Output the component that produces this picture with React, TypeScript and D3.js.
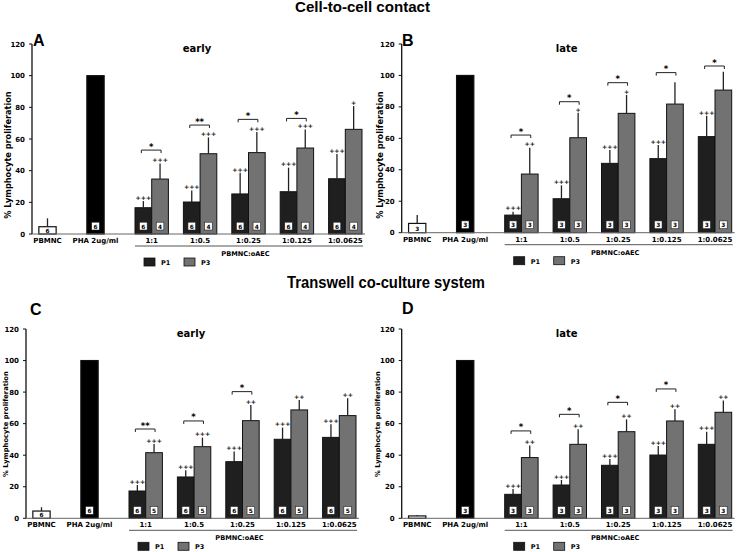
import React from "react";
import * as d3 from "d3";

// ---------- shared categories ----------
const controlCategories = ["PBMNC", "PHA 2ug/ml"];
const ratioCategories = ["1:1", "1:0.5", "1:0.25", "1:0.125", "1:0.0625"];
const seriesNames = ["P1", "P3"];
const yTicks = [0, 20, 40, 60, 80, 100, 120];
const groupLabel = "PBMNC:oAEC";
const yAxisLabel = "% Lymphocyte proliferation";
const topTitle = "Cell-to-cell contact";
const bottomTitle = "Transwell co-culture system";

// ---------- Panel A (contact, early) ----------
const aControlMean = [4.6, 100];
const aControlSd = [5.3, 0];
const aControlN = ["6", "6"];
const aP1Mean = [16.6, 20.2, 25.3, 26.7, 34.9];
const aP1Sd = [4.2, 7.2, 13.4, 15.2, 15.6];
const aP3Mean = [34.7, 50.7, 51.4, 54.3, 66.1];
const aP3Sd = [9.9, 10.3, 13.0, 11.7, 14.7];
const aP1Sig = ["+++", "+++", "+++", "+++", "+++"];
const aP3Sig = ["+++", "+++", "+++", "+++", "+"];
const aBracket = ["*", "**", "*", "*", ""];
const aBracketAt = [53, 68.8, 72.4, 73, 0];
const aN = ["6", "4"];

// ---------- Panel B (contact, late) ----------
const bControlMean = [5.9, 100];
const bControlSd = [5.3, 0];
const bControlN = ["3", "3"];
const bP1Mean = [11.2, 21.6, 44.1, 47.1, 61.1];
const bP1Sd = [2.2, 8.5, 8.5, 8.7, 13.3];
const bP3Mean = [37.3, 60.4, 75.9, 81.8, 90.7];
const bP3Sd = [16.8, 15.9, 11.7, 13.8, 11.7];
const bP1Sig = ["+++", "+++", "+++", "+++", "+++"];
const bP3Sig = ["++", "+", "+", "", ""];
const bBracket = ["*", "*", "*", "*", "*"];
const bBracketAt = [62.1, 83.3, 95.4, 101.8, 106];
const bN = ["3", "3"];

// ---------- Panel C (transwell, early) ----------
const cControlMean = [4.6, 100];
const cControlSd = [2.4, 0];
const cControlN = ["6", "6"];
const cP1Mean = [17.3, 26.2, 35.9, 50.1, 51.3];
const cP1Sd = [3.8, 4.2, 6.4, 7.4, 8.3];
const cP3Mean = [41.6, 45.4, 61.9, 68.7, 65.1];
const cP3Sd = [5.5, 5.7, 9.9, 6.3, 11.0];
const cP1Sig = ["+++", "+++", "+++", "+++", "+++"];
const cP3Sig = ["+++", "+++", "++", "++", "++"];
const cBracket = ["**", "*", "*", "", ""];
const cBracketAt = [56.6, 61.7, 80.3, 0, 0];
const cN = ["6", "5"];

// ---------- Panel D (transwell, late) ----------
const dControlMean = [1.5, 100];
const dControlSd = [0.6, 0];
const dControlN = ["", "3"];
const dP1Mean = [15.2, 21.1, 33.6, 40.1, 46.9];
const dP1Sd = [3.4, 3.2, 4.0, 5.7, 8.0];
const dP3Mean = [38.5, 46.9, 54.9, 61.7, 67.2];
const dP3Sd = [7.6, 9.5, 7.8, 7.4, 7.4];
const dP1Sig = ["+++", "+++", "+++", "+++", "+++"];
const dP3Sig = ["++", "++", "++", "++", "++"];
const dBracket = ["*", "*", "*", "*", ""];
const dBracketAt = [55.4, 65.9, 73.5, 82, 0];
const dN = ["3", "3"];

const FONT = "'DejaVu Sans', Verdana, sans-serif";
const P1_FILL = "#1f1f1f";
const P3_FILL = "#727272";

type PanelData = {
  letter: string;
  title: string;
  controlMean: number[];
  controlSd: number[];
  controlN: string[];
  p1Mean: number[];
  p1Sd: number[];
  p3Mean: number[];
  p3Sd: number[];
  p1Sig: string[];
  p3Sig: string[];
  bracket: string[];
  bracketAt: number[];
  n: string[];
};

type Layout = {
  axisX: number;
  yBottom: number;
  yTop: number;
  letterX: number;
  letterY: number;
  yLabelX: number;
  yLabelY: number;
  yLabelSize: number;
};

function Panel({ d, l }: { d: PanelData; l: Layout }) {
  const y = d3.scaleLinear().domain([0, 120]).range([l.yBottom, l.yTop]);
  const xc = d3
    .scaleBand()
    .domain(controlCategories)
    .range([l.axisX - 8.5, l.axisX + 87.5])
    .paddingInner(0.64)
    .paddingOuter(0.32);
  const xg = d3
    .scaleBand()
    .domain(ratioCategories)
    .range([l.axisX + 95.5, l.axisX + 337.5])
    .paddingInner(0.31)
    .paddingOuter(0.155);
  const xs = d3.scaleBand().domain(seriesNames).range([0, xg.bandwidth()]);
  const cw = xc.bandwidth();
  const sw = xs.bandwidth();
  const y0 = y(0);
  const firstG = xg(ratioCategories[0])!;
  const lastG = xg(ratioCategories[ratioCategories.length - 1])! + xg.bandwidth();

  const nBox = (cx: number, label: string, key: string) =>
    label ? (
      <g key={key}>
        <rect x={cx - 3.8} y={y0 - 11.8} width={7.6} height={7.8} fill="#fff" stroke="#222" strokeWidth={0.6} />
        <text x={cx} y={y0 - 5.5} fontSize={5.8} fontWeight="bold" textAnchor="middle" fontFamily={FONT}>
          {label}
        </text>
      </g>
    ) : null;

  const errBar = (cx: number, m: number, sd: number, key: string) =>
    sd > 0 ? <line key={key} x1={cx} x2={cx} y1={y(m)} y2={y(m + sd)} stroke="#222" strokeWidth={1.3} /> : null;

  const series = [
    { name: "P1", mean: d.p1Mean, sd: d.p1Sd, sig: d.p1Sig, fill: P1_FILL, n: d.n[0] },
    { name: "P3", mean: d.p3Mean, sd: d.p3Sd, sig: d.p3Sig, fill: P3_FILL, n: d.n[1] },
  ];

  return (
    <g>
      <text x={l.letterX} y={l.letterY} fontSize={16} fontWeight="bold" fontFamily="'Liberation Sans', Arial, sans-serif">
        {d.letter}
      </text>
      <text x={l.axisX + 165} y={l.yTop + 7.5} fontSize={10} fontWeight="bold" textAnchor="middle" fontFamily={FONT}>
        {d.title}
      </text>
      <text
        transform={`translate(${l.yLabelX},${l.yLabelY}) rotate(-90)`}
        fontSize={l.yLabelSize}
        fontWeight="bold"
        textAnchor="middle"
        dominantBaseline="middle"
        fontFamily={FONT}
      >
        {yAxisLabel}
      </text>
      <line x1={l.axisX} x2={l.axisX} y1={y(0)} y2={y(120)} stroke="#111" strokeWidth={1.3} />
      {yTicks.map((t) => (
        <g key={t}>
          <line x1={l.axisX - 3} x2={l.axisX} y1={y(t)} y2={y(t)} stroke="#111" strokeWidth={1} />
          <text x={l.axisX - 7} y={y(t) + 2.5} fontSize={7} fontWeight="bold" textAnchor="end" fontFamily={FONT}>
            {t}
          </text>
        </g>
      ))}
      {controlCategories.map((c, i) => {
        const x0 = xc(c)!;
        const cx = x0 + cw / 2;
        const isWhite = i === 0;
        return (
          <g key={c}>
            <rect
              x={x0}
              y={y(d.controlMean[i])}
              width={cw}
              height={y0 - y(d.controlMean[i])}
              fill={isWhite ? "#fff" : "#000"}
              stroke="#111"
              strokeWidth={1.2}
            />
            {errBar(cx, d.controlMean[i], d.controlSd[i], "e" + c)}
            {isWhite
              ? d.controlN[i] && (
                  <text x={cx} y={y0 - 1.5} fontSize={5.8} fontWeight="bold" textAnchor="middle" fontFamily={FONT}>
                    {d.controlN[i]}
                  </text>
                )
              : nBox(cx, d.controlN[i], "n" + c)}
            <text x={cx} y={y0 + 9} fontSize={7} fontWeight="bold" textAnchor="middle" fontFamily={FONT}>
              {c}
            </text>
          </g>
        );
      })}
      {ratioCategories.map((c, gi) => {
        const gx = xg(c)!;
        const centers = seriesNames.map((s) => gx + xs(s)! + sw / 2);
        return (
          <g key={c}>
            {series.map((s, si) => {
              const x0 = gx + xs(s.name)!;
              const cx = x0 + sw / 2;
              const top = y(s.mean[gi] + s.sd[gi]);
              return (
                <g key={s.name}>
                  <rect
                    x={x0}
                    y={y(s.mean[gi])}
                    width={sw}
                    height={y0 - y(s.mean[gi])}
                    fill={s.fill}
                    stroke="#111"
                    strokeWidth={1}
                  />
                  {errBar(cx, s.mean[gi], s.sd[gi], "e")}
                  {s.sig[gi] && (
                    <text x={cx} y={top - 1.2} fontSize={6.2} fontWeight="bold" textAnchor="middle" fontFamily={FONT} fill="#111">
                      {s.sig[gi]}
                    </text>
                  )}
                  {nBox(cx, s.n, "n" + si)}
                </g>
              );
            })}
            {d.bracket[gi] && (
              <g>
                <path
                  d={`M${centers[0] - 2},${y(d.bracketAt[gi]) + 3}V${y(d.bracketAt[gi])}H${centers[1] + 1}V${
                    y(d.bracketAt[gi]) + 3
                  }`}
                  fill="none"
                  stroke="#222"
                  strokeWidth={1}
                />
                <text
                  x={(centers[0] + centers[1]) / 2 - 0.5}
                  y={y(d.bracketAt[gi]) - 0.5}
                  fontSize={8.5}
                  fontWeight="bold"
                  textAnchor="middle"
                  fontFamily={FONT}
                >
                  {d.bracket[gi]}
                </text>
              </g>
            )}
            <text x={gx + xg.bandwidth() / 2} y={y0 + 9} fontSize={7} fontWeight="bold" textAnchor="middle" fontFamily={FONT}>
              {c}
            </text>
          </g>
        );
      })}
      <line x1={l.axisX} x2={l.axisX + 333} y1={y0} y2={y0} stroke="#666" strokeWidth={1} />
      <line x1={firstG} x2={lastG + 1} y1={y0 + 12} y2={y0 + 12} stroke="#555" strokeWidth={1} />
      <text x={(firstG + lastG) / 2 - 3} y={y0 + 22} fontSize={6.6} fontWeight="bold" textAnchor="middle" fontFamily={FONT}>
        {groupLabel}
      </text>
      {series.map((s, i) => (
        <g key={s.name}>
          <rect x={l.axisX + 112 + i * 40} y={y0 + 24} width={11} height={8} fill={s.fill} stroke="#111" strokeWidth={0.8} />
          <text x={l.axisX + 129 + i * 40} y={y0 + 31} fontSize={6.5} fontWeight="bold" fontFamily={FONT}>
            {s.name}
          </text>
        </g>
      ))}
    </g>
  );
}

const panels: { d: PanelData; l: Layout }[] = [
  {
    d: {
      letter: "A", title: "early", controlMean: aControlMean, controlSd: aControlSd, controlN: aControlN,
      p1Mean: aP1Mean, p1Sd: aP1Sd, p3Mean: aP3Mean, p3Sd: aP3Sd, p1Sig: aP1Sig, p3Sig: aP3Sig,
      bracket: aBracket, bracketAt: aBracketAt, n: aN,
    },
    l: { axisX: 32, yBottom: 234, yTop: 44, letterX: 33, letterY: 45.5, yLabelX: 8.5, yLabelY: 155, yLabelSize: 8.2 },
  },
  {
    d: {
      letter: "B", title: "late", controlMean: bControlMean, controlSd: bControlSd, controlN: bControlN,
      p1Mean: bP1Mean, p1Sd: bP1Sd, p3Mean: bP3Mean, p3Sd: bP3Sd, p1Sig: bP1Sig, p3Sig: bP3Sig,
      bracket: bBracket, bracketAt: bBracketAt, n: bN,
    },
    l: { axisX: 401.7, yBottom: 232.7, yTop: 44, letterX: 402, letterY: 45.5, yLabelX: 380, yLabelY: 155, yLabelSize: 8.2 },
  },
  {
    d: {
      letter: "C", title: "early", controlMean: cControlMean, controlSd: cControlSd, controlN: cControlN,
      p1Mean: cP1Mean, p1Sd: cP1Sd, p3Mean: cP3Mean, p3Sd: cP3Sd, p1Sig: cP1Sig, p3Sig: cP3Sig,
      bracket: cBracket, bracketAt: cBracketAt, n: cN,
    },
    l: { axisX: 26, yBottom: 518.3, yTop: 329, letterX: 30, letterY: 315, yLabelX: 6.5, yLabelY: 424, yLabelSize: 6.8 },
  },
  {
    d: {
      letter: "D", title: "late", controlMean: dControlMean, controlSd: dControlSd, controlN: dControlN,
      p1Mean: dP1Mean, p1Sd: dP1Sd, p3Mean: dP3Mean, p3Sd: dP3Sd, p1Sig: dP1Sig, p3Sig: dP3Sig,
      bracket: dBracket, bracketAt: dBracketAt, n: dN,
    },
    l: { axisX: 401.7, yBottom: 518.3, yTop: 329, letterX: 402, letterY: 313.5, yLabelX: 378.5, yLabelY: 424, yLabelSize: 6.8 },
  },
];

export default function App() {
  return (
    <svg
      width={746}
      height={552}
      viewBox="0 0 746 552"
      style={{ position: "absolute", left: 0, top: 0, background: "#fff", display: "block" }}
    >
      <rect width={746} height={552} fill="#fff" />
      <text
        x={362.5}
        y={11.7}
        fontSize={14}
        fontWeight="bold"
        textAnchor="middle"
        textLength={135}
        lengthAdjust="spacingAndGlyphs"
        fontFamily="'Liberation Sans', Arial, sans-serif"
      >
        {topTitle}
      </text>
      <text
        x={386}
        y={288}
        fontSize={16}
        fontWeight="bold"
        textAnchor="middle"
        textLength={198}
        lengthAdjust="spacingAndGlyphs"
        fontFamily="'Liberation Sans', Arial, sans-serif"
      >
        {bottomTitle}
      </text>
      {panels.map((p) => (
        <Panel key={p.d.letter} d={p.d} l={p.l} />
      ))}
    </svg>
  );
}
